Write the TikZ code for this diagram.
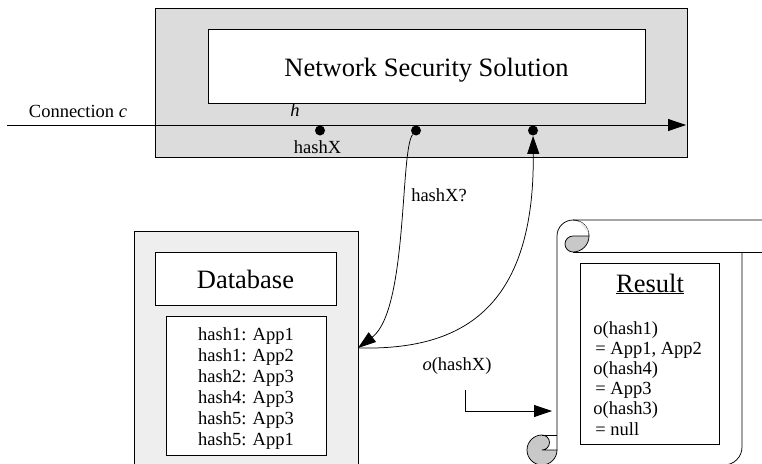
\documentclass[tikz,border=0pt]{standalone}
\usepackage{fontspec}
\setmainfont{Liberation Serif}
\usetikzlibrary{arrows.meta}
\definecolor{outergray}{HTML}{DCDCDC}
\definecolor{dbgray}{HTML}{EEEEEE}
\definecolor{curlgray}{HTML}{C8C8C8}
\definecolor{hilite}{HTML}{E8E8E8}
\newcommand\fsz[2]{\fontsize{#1}{#2}\selectfont}
\begin{document}
\begin{tikzpicture}[x=1pt,y=-1pt,
  line width=0.75pt,
  box/.style={draw, fill=white, inner sep=0pt, anchor=north west},
  small/.style={font=\fsz{18.5}{21}, inner sep=0pt},
  big/.style={font=\fsz{26.5}{30}, inner sep=0pt},
  dot/.style={circle, fill=black, inner sep=0pt, minimum size=10pt},
  tip/.style={-{Triangle[length=18pt,width=12pt]}},
  curl/.style={draw, fill=curlgray},
]
\clip (0,0) rectangle (762,463);

% Network security solution
\node[box, fill=outergray, minimum width=532pt, minimum height=149pt] (nss) at (155,8) {};
\node[box, minimum width=437pt, minimum height=74pt] (nsi) at (208,29) {};
\node[big, anchor=base] (nsst) at (426.5,76) {Network Security Solution};

\coordinate (cstart) at (7,125);
\coordinate (cend) at (686,125);
\draw[tip] (cstart) -- (cend);
\node[small, anchor=base] (conn) at (78,117) {Connection \textit{c}};
\node[small, anchor=base] (hlab) at (295,116) {\textit{h}};
\node[dot] (d1) at (320,130.5) {};
\node[dot] (d2) at (416,130.5) {};
\node[dot] (d3) at (533,130.5) {};
\node[small, anchor=base] (hx) at (317.5,153) {hashX};

% Database
\node[box, fill=dbgray, minimum width=224pt, minimum height=250pt] (db) at (134,231) {};
\node[box, minimum width=181pt, minimum height=53pt] (dbt) at (155,252) {};
\node[big, anchor=base] (dbtt) at (245.5,288) {Database};
\node[box, minimum width=160pt, minimum height=139pt] (dbe) at (166,316) {};
\foreach \t [count=\i from 0] in {hash1: App1, hash1: App2, hash2: App3, hash4: App3, hash5: App3, hash5: App1}
  \node[small, anchor=base] (e\i) at (246,{340+21*\i}) {\t};

% query / answer curves
\coordinate (dbin) at (358,348);
\draw[tip] (d2) .. controls (400,150) and (408,310) .. (dbin);
\draw[tip] (dbin) .. controls (450,350) and (535,320) .. (d3);
\node[small, anchor=base] (q) at (439,201) {hashX?};

% o(hashX) arrow
\node[small, anchor=base] (ox) at (457,370) {\textit{o}(hashX)};
\coordinate (ostart) at (465,390);
\coordinate (oend) at (552,411);
\draw[tip] (ostart) |- (oend);

% Scroll
\draw (557,450) -- (557,236) arc[start angle=180, end angle=270, radius=16] -- (768,220);
\draw (573,252) -- (768,252);
\draw (742,252) -- (742,447) arc[start angle=0, end angle=90, radius=18] -- (700,465);
\draw (573,220) arc[start angle=270, end angle=360, radius=16];
\draw[curl] (573,236) -- (589,236) arc[start angle=0, end angle=90, radius=16]
  arc[start angle=90, end angle=270, radius=8] -- cycle;
\fill[hilite] (578.5,221) arc[start angle=290, end angle=350, radius=16] -- cycle;
\draw[curl] (542,435) arc[start angle=270, end angle=0, radius=15] -- (542,450)
  arc[start angle=90, end angle=-90, radius=7.5] -- cycle;
\draw (542,435) -- (557,435);

% Result
\node[box, minimum width=139pt, minimum height=181pt] (res) at (580,263) {};
\node[big, anchor=base] (rest) at (650,292) {\underline{Result}};
\foreach \t [count=\i from 0] in {o(hash1), {\hspace*{2pt}= App1, App2}, o(hash4), {\hspace*{2pt}= App3}, o(hash3), {\hspace*{2pt}= null}}
  \node[small, anchor=base west] (r\i) at (593,{334+20.2*\i}) {\t};
\end{tikzpicture}
\end{document}
